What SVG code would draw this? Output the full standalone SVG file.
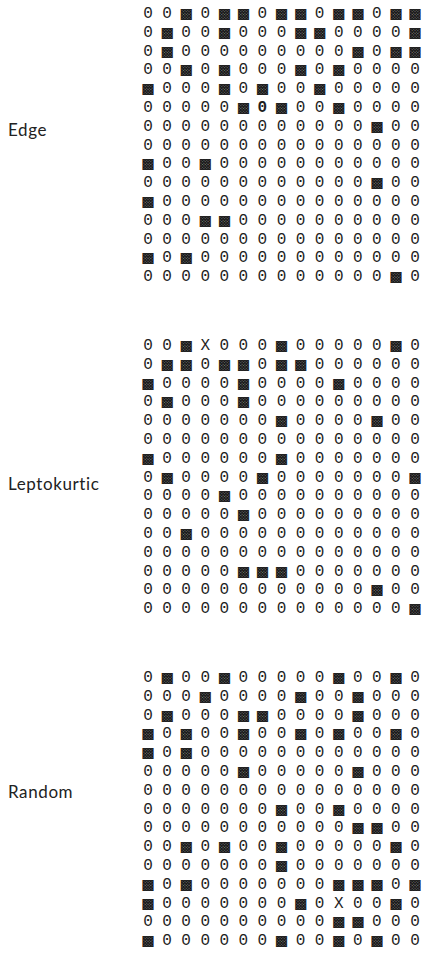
<svg xmlns="http://www.w3.org/2000/svg" width="424" height="957" viewBox="0 0 424 957">
<style>
.g{font-family:"Liberation Mono","DejaVu Sans Mono",monospace;font-size:16px;fill:#1e1e1e;text-anchor:middle}
.b{font-family:"DejaVu Sans",sans-serif;font-size:13.5px;fill:#111;stroke:#111;stroke-width:0.45px}
.o{font-weight:bold}
.l{font-family:Lato,"Open Sans",sans-serif;font-size:17px;letter-spacing:0.6px;fill:#222}
</style>
<rect width="424" height="957" fill="#fff"/>
<g id="edge">
<text class="l" x="8" y="136">Edge</text>
<g class="g">
<text x="148 167.1 186.1 205.2 224.3 243.4 262.4 281.5 300.6 319.6 338.7 357.8 376.8 395.9 415" y="18">00<tspan class="b">▩</tspan>0<tspan class="b">▩▩</tspan>0<tspan class="b">▩▩</tspan>0<tspan class="b">▩▩</tspan>0<tspan class="b">▩▩</tspan></text>
<text x="148 167.1 186.1 205.2 224.3 243.4 262.4 281.5 300.6 319.6 338.7 357.8 376.8 395.9 415" y="36.8">0<tspan class="b">▩</tspan>00<tspan class="b">▩</tspan>000<tspan class="b">▩▩</tspan>0000<tspan class="b">▩</tspan></text>
<text x="148 167.1 186.1 205.2 224.3 243.4 262.4 281.5 300.6 319.6 338.7 357.8 376.8 395.9 415" y="55.6">0<tspan class="b">▩</tspan>000000000<tspan class="b">▩</tspan>0<tspan class="b">▩▩</tspan></text>
<text x="148 167.1 186.1 205.2 224.3 243.4 262.4 281.5 300.6 319.6 338.7 357.8 376.8 395.9 415" y="74.4">00<tspan class="b">▩</tspan>0<tspan class="b">▩</tspan>000<tspan class="b">▩</tspan>0<tspan class="b">▩</tspan>0000</text>
<text x="148 167.1 186.1 205.2 224.3 243.4 262.4 281.5 300.6 319.6 338.7 357.8 376.8 395.9 415" y="93.2"><tspan class="b">▩</tspan>000<tspan class="b">▩</tspan>0<tspan class="b">▩</tspan>00<tspan class="b">▩</tspan>00000</text>
<text x="148 167.1 186.1 205.2 224.3 243.4 262.4 281.5 300.6 319.6 338.7 357.8 376.8 395.9 415" y="112">00000<tspan class="b">▩</tspan><tspan class="o">0</tspan><tspan class="b">▩</tspan>00<tspan class="b">▩</tspan>0000</text>
<text x="148 167.1 186.1 205.2 224.3 243.4 262.4 281.5 300.6 319.6 338.7 357.8 376.8 395.9 415" y="130.8">000000000000<tspan class="b">▩</tspan>00</text>
<text x="148 167.1 186.1 205.2 224.3 243.4 262.4 281.5 300.6 319.6 338.7 357.8 376.8 395.9 415" y="149.6">000000000000000</text>
<text x="148 167.1 186.1 205.2 224.3 243.4 262.4 281.5 300.6 319.6 338.7 357.8 376.8 395.9 415" y="168.4"><tspan class="b">▩</tspan>00<tspan class="b">▩</tspan>00000000000</text>
<text x="148 167.1 186.1 205.2 224.3 243.4 262.4 281.5 300.6 319.6 338.7 357.8 376.8 395.9 415" y="187.2">000000000000<tspan class="b">▩</tspan>00</text>
<text x="148 167.1 186.1 205.2 224.3 243.4 262.4 281.5 300.6 319.6 338.7 357.8 376.8 395.9 415" y="206"><tspan class="b">▩</tspan>00000000000000</text>
<text x="148 167.1 186.1 205.2 224.3 243.4 262.4 281.5 300.6 319.6 338.7 357.8 376.8 395.9 415" y="224.8">000<tspan class="b">▩▩</tspan>0000000000</text>
<text x="148 167.1 186.1 205.2 224.3 243.4 262.4 281.5 300.6 319.6 338.7 357.8 376.8 395.9 415" y="243.6">000000000000000</text>
<text x="148 167.1 186.1 205.2 224.3 243.4 262.4 281.5 300.6 319.6 338.7 357.8 376.8 395.9 415" y="262.4"><tspan class="b">▩</tspan>0<tspan class="b">▩</tspan>000000000000</text>
<text x="148 167.1 186.1 205.2 224.3 243.4 262.4 281.5 300.6 319.6 338.7 357.8 376.8 395.9 415" y="281.2">0000000000000<tspan class="b">▩</tspan>0</text>
</g>
</g>
<g id="leptokurtic">
<text class="l" x="8" y="490">Leptokurtic</text>
<g class="g">
<text x="148 167.1 186.1 205.2 224.3 243.4 262.4 281.5 300.6 319.6 338.7 357.8 376.8 395.9 415" y="350">00<tspan class="b">▩</tspan>X000<tspan class="b">▩</tspan>00000<tspan class="b">▩</tspan>0</text>
<text x="148 167.1 186.1 205.2 224.3 243.4 262.4 281.5 300.6 319.6 338.7 357.8 376.8 395.9 415" y="368.8">0<tspan class="b">▩▩</tspan>0<tspan class="b">▩▩</tspan>0<tspan class="b">▩▩</tspan>000000</text>
<text x="148 167.1 186.1 205.2 224.3 243.4 262.4 281.5 300.6 319.6 338.7 357.8 376.8 395.9 415" y="387.6"><tspan class="b">▩</tspan>0000<tspan class="b">▩</tspan>0000<tspan class="b">▩</tspan>0000</text>
<text x="148 167.1 186.1 205.2 224.3 243.4 262.4 281.5 300.6 319.6 338.7 357.8 376.8 395.9 415" y="406.4">0<tspan class="b">▩</tspan>000<tspan class="b">▩</tspan>000000000</text>
<text x="148 167.1 186.1 205.2 224.3 243.4 262.4 281.5 300.6 319.6 338.7 357.8 376.8 395.9 415" y="425.2">0000000<tspan class="b">▩</tspan>0000<tspan class="b">▩</tspan>00</text>
<text x="148 167.1 186.1 205.2 224.3 243.4 262.4 281.5 300.6 319.6 338.7 357.8 376.8 395.9 415" y="444">000000000000000</text>
<text x="148 167.1 186.1 205.2 224.3 243.4 262.4 281.5 300.6 319.6 338.7 357.8 376.8 395.9 415" y="462.8"><tspan class="b">▩</tspan>000000<tspan class="b">▩</tspan>0000000</text>
<text x="148 167.1 186.1 205.2 224.3 243.4 262.4 281.5 300.6 319.6 338.7 357.8 376.8 395.9 415" y="481.6">0<tspan class="b">▩</tspan>0000<tspan class="b">▩</tspan>0000000<tspan class="b">▩</tspan></text>
<text x="148 167.1 186.1 205.2 224.3 243.4 262.4 281.5 300.6 319.6 338.7 357.8 376.8 395.9 415" y="500.4">0000<tspan class="b">▩</tspan>0000000000</text>
<text x="148 167.1 186.1 205.2 224.3 243.4 262.4 281.5 300.6 319.6 338.7 357.8 376.8 395.9 415" y="519.2">00000<tspan class="b">▩</tspan>000000000</text>
<text x="148 167.1 186.1 205.2 224.3 243.4 262.4 281.5 300.6 319.6 338.7 357.8 376.8 395.9 415" y="538">00<tspan class="b">▩</tspan>000000000000</text>
<text x="148 167.1 186.1 205.2 224.3 243.4 262.4 281.5 300.6 319.6 338.7 357.8 376.8 395.9 415" y="556.8">000000000000000</text>
<text x="148 167.1 186.1 205.2 224.3 243.4 262.4 281.5 300.6 319.6 338.7 357.8 376.8 395.9 415" y="575.6">00000<tspan class="b">▩▩▩</tspan>0000000</text>
<text x="148 167.1 186.1 205.2 224.3 243.4 262.4 281.5 300.6 319.6 338.7 357.8 376.8 395.9 415" y="594.4">000000000000<tspan class="b">▩</tspan>00</text>
<text x="148 167.1 186.1 205.2 224.3 243.4 262.4 281.5 300.6 319.6 338.7 357.8 376.8 395.9 415" y="613.2">00000000000000<tspan class="b">▩</tspan></text>
</g>
</g>
<g id="random">
<text class="l" x="8" y="798">Random</text>
<g class="g">
<text x="148 167.1 186.1 205.2 224.3 243.4 262.4 281.5 300.6 319.6 338.7 357.8 376.8 395.9 415" y="682">0<tspan class="b">▩</tspan>00<tspan class="b">▩</tspan>00000<tspan class="b">▩</tspan>00<tspan class="b">▩</tspan>0</text>
<text x="148 167.1 186.1 205.2 224.3 243.4 262.4 281.5 300.6 319.6 338.7 357.8 376.8 395.9 415" y="700.8">000<tspan class="b">▩</tspan>0000<tspan class="b">▩</tspan>00<tspan class="b">▩</tspan>000</text>
<text x="148 167.1 186.1 205.2 224.3 243.4 262.4 281.5 300.6 319.6 338.7 357.8 376.8 395.9 415" y="719.6">0<tspan class="b">▩</tspan>000<tspan class="b">▩▩</tspan>0000<tspan class="b">▩</tspan>000</text>
<text x="148 167.1 186.1 205.2 224.3 243.4 262.4 281.5 300.6 319.6 338.7 357.8 376.8 395.9 415" y="738.4"><tspan class="b">▩</tspan>0<tspan class="b">▩</tspan>00<tspan class="b">▩</tspan>00<tspan class="b">▩</tspan>0<tspan class="b">▩</tspan>00<tspan class="b">▩</tspan>0</text>
<text x="148 167.1 186.1 205.2 224.3 243.4 262.4 281.5 300.6 319.6 338.7 357.8 376.8 395.9 415" y="757.2"><tspan class="b">▩</tspan>0<tspan class="b">▩</tspan>000000000000</text>
<text x="148 167.1 186.1 205.2 224.3 243.4 262.4 281.5 300.6 319.6 338.7 357.8 376.8 395.9 415" y="776">00000<tspan class="b">▩</tspan>00000<tspan class="b">▩</tspan>000</text>
<text x="148 167.1 186.1 205.2 224.3 243.4 262.4 281.5 300.6 319.6 338.7 357.8 376.8 395.9 415" y="794.8">000000000000000</text>
<text x="148 167.1 186.1 205.2 224.3 243.4 262.4 281.5 300.6 319.6 338.7 357.8 376.8 395.9 415" y="813.6">0000000<tspan class="b">▩</tspan>00<tspan class="b">▩</tspan>0000</text>
<text x="148 167.1 186.1 205.2 224.3 243.4 262.4 281.5 300.6 319.6 338.7 357.8 376.8 395.9 415" y="832.4">00000000000<tspan class="b">▩▩</tspan>00</text>
<text x="148 167.1 186.1 205.2 224.3 243.4 262.4 281.5 300.6 319.6 338.7 357.8 376.8 395.9 415" y="851.2">00<tspan class="b">▩</tspan>0<tspan class="b">▩</tspan>00<tspan class="b">▩</tspan>00000<tspan class="b">▩</tspan>0</text>
<text x="148 167.1 186.1 205.2 224.3 243.4 262.4 281.5 300.6 319.6 338.7 357.8 376.8 395.9 415" y="870">0000000<tspan class="b">▩</tspan>0000000</text>
<text x="148 167.1 186.1 205.2 224.3 243.4 262.4 281.5 300.6 319.6 338.7 357.8 376.8 395.9 415" y="888.8"><tspan class="b">▩</tspan>0<tspan class="b">▩</tspan>0000000<tspan class="b">▩▩▩</tspan>0<tspan class="b">▩</tspan></text>
<text x="148 167.1 186.1 205.2 224.3 243.4 262.4 281.5 300.6 319.6 338.7 357.8 376.8 395.9 415" y="907.6"><tspan class="b">▩</tspan>0000000<tspan class="b">▩</tspan>0X00<tspan class="b">▩</tspan>0</text>
<text x="148 167.1 186.1 205.2 224.3 243.4 262.4 281.5 300.6 319.6 338.7 357.8 376.8 395.9 415" y="926.4">0000000000<tspan class="b">▩▩</tspan>000</text>
<text x="148 167.1 186.1 205.2 224.3 243.4 262.4 281.5 300.6 319.6 338.7 357.8 376.8 395.9 415" y="945.2"><tspan class="b">▩</tspan>000000<tspan class="b">▩</tspan>00<tspan class="b">▩</tspan>0<tspan class="b">▩</tspan>00</text>
</g>
</g>
</svg>
